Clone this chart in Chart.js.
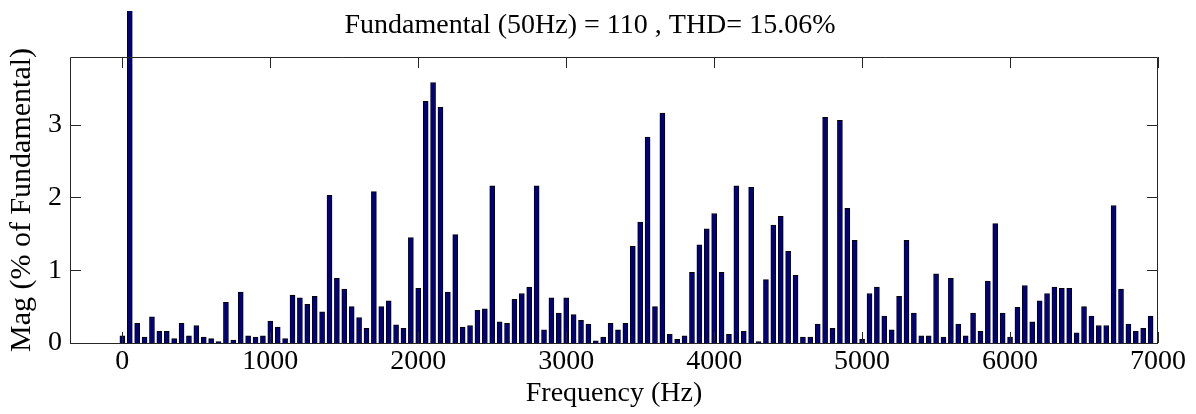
<!DOCTYPE html>
<html>
<head>
<meta charset="utf-8">
<title>Harmonic spectrum</title>
<script src="https://cdn.jsdelivr.net/npm/chart.js@4.4.1/dist/chart.umd.min.js"></script>
<style>
    html, body { margin: 0; padding: 0; background: #ffffff; }
    #wrap { width: 1196px; height: 414px; }
</style>
</head>
<body>
<div id="wrap"><canvas id="fftChart" width="1196" height="414"></canvas></div>
<script>
// Harmonic frequencies (Hz), one bar per 50 Hz step
const freqs = [
    0, 50, 100, 150, 200, 250, 300, 350, 400, 450,
    500, 550, 600, 650, 700, 750, 800, 850, 900, 950,
    1000, 1050, 1100, 1150, 1200, 1250, 1300, 1350, 1400, 1450,
    1500, 1550, 1600, 1650, 1700, 1750, 1800, 1850, 1900, 1950,
    2000, 2050, 2100, 2150, 2200, 2250, 2300, 2350, 2400, 2450,
    2500, 2550, 2600, 2650, 2700, 2750, 2800, 2850, 2900, 2950,
    3000, 3050, 3100, 3150, 3200, 3250, 3300, 3350, 3400, 3450,
    3500, 3550, 3600, 3650, 3700, 3750, 3800, 3850, 3900, 3950,
    4000, 4050, 4100, 4150, 4200, 4250, 4300, 4350, 4400, 4450,
    4500, 4550, 4600, 4650, 4700, 4750, 4800, 4850, 4900, 4950,
    5000, 5050, 5100, 5150, 5200, 5250, 5300, 5350, 5400, 5450,
    5500, 5550, 5600, 5650, 5700, 5750, 5800, 5850, 5900, 5950,
    6000, 6050, 6100, 6150, 6200, 6250, 6300, 6350, 6400, 6450,
    6500, 6550, 6600, 6650, 6700, 6750, 6800, 6850, 6900, 6950
];

// Magnitude (% of fundamental)
const mags = [
    0.10, 100, 0.27, 0.08, 0.36, 0.16, 0.16, 0.06, 0.27, 0.10,
    0.24, 0.08, 0.06, 0.02, 0.56, 0.04, 0.70, 0.10, 0.08, 0.10,
    0.30, 0.22, 0.06, 0.66, 0.62, 0.53, 0.64, 0.43, 2.03, 0.89,
    0.74, 0.50, 0.35, 0.20, 2.08, 0.50, 0.58, 0.25, 0.20, 1.45,
    0.75, 3.32, 3.58, 3.24, 0.70, 1.49, 0.22, 0.24, 0.45, 0.47,
    2.16, 0.29, 0.27, 0.60, 0.68, 0.77, 2.16, 0.18, 0.62, 0.41,
    0.62, 0.39, 0.31, 0.26, 0.03, 0.08, 0.27, 0.18, 0.27, 1.33,
    1.66, 2.83, 0.50, 3.16, 0.12, 0.05, 0.10, 0.97, 1.35, 1.57,
    1.78, 0.97, 0.12, 2.16, 0.16, 2.14, 0.02, 0.87, 1.62, 1.74,
    1.26, 0.93, 0.08, 0.08, 0.26, 3.10, 0.20, 3.06, 1.85, 1.41,
    0.05, 0.68, 0.77, 0.37, 0.18, 0.64, 1.41, 0.41, 0.10, 0.10,
    0.95, 0.08, 0.89, 0.26, 0.10, 0.41, 0.16, 0.85, 1.64, 0.41,
    0.08, 0.49, 0.79, 0.29, 0.58, 0.68, 0.77, 0.75, 0.75, 0.14,
    0.50, 0.37, 0.24, 0.24, 1.89, 0.74, 0.26, 0.16, 0.20, 0.37
];

// Axis ticks
const xTicks = [0, 1000, 2000, 3000, 4000, 5000, 6000, 7000];
const yTicks = [0, 1, 2, 3];

const titleText = 'Fundamental (50Hz) = 110 , THD= 15.06%';
const fontFamily = '"Liberation Serif", "Times New Roman", serif';

// Box around the axes plus MATLAB style inward tick marks and the title
const matlabFrame = {
    id: 'matlabFrame',
    afterDatasetsDraw(chart) {
        const { ctx, chartArea: a, scales } = chart;
        const len = 11;
        ctx.save();
        ctx.strokeStyle = '#262626';
        ctx.lineWidth = 1;
        ctx.beginPath();
        ctx.rect(a.left + 0.5, a.top + 0.5, a.right - a.left - 1, a.bottom - a.top);
        scales.x.ticks.forEach(t => {
            const px = Math.round(scales.x.getPixelForValue(t.value)) + 0.5;
            ctx.moveTo(px, a.bottom);
            ctx.lineTo(px, a.bottom - len);
            ctx.moveTo(px, a.top);
            ctx.lineTo(px, a.top + len);
        });
        scales.y.ticks.forEach(t => {
            const py = Math.round(scales.y.getPixelForValue(t.value)) + 0.5;
            ctx.moveTo(a.left, py);
            ctx.lineTo(a.left + len, py);
            ctx.moveTo(a.right, py);
            ctx.lineTo(a.right - len, py);
        });
        ctx.stroke();

        // title
        ctx.fillStyle = '#000000';
        ctx.font = '28px ' + fontFamily;
        ctx.textAlign = 'center';
        ctx.textBaseline = 'alphabetic';
        ctx.fillText(titleText, 590, 33);
        ctx.restore();
    }
};

const ctx = document.getElementById('fftChart');

new Chart(ctx, {
    type: 'bar',
    data: {
        datasets: [{
            data: freqs.map((f, i) => ({ x: f, y: mags[i] })),
            backgroundColor: '#000080',
            borderColor: '#000000',
            borderWidth: 1,
            barThickness: 5,
            clip: { left: 0, top: 46, right: 0, bottom: 0 }
        }]
    },
    options: {
        responsive: false,
        animation: false,
        devicePixelRatio: 1,
        layout: {
            padding: { top: 57, right: 38, bottom: 0, left: 0 }
        },
        plugins: {
            legend: { display: false },
            tooltip: { enabled: false }
        },
        scales: {
            x: {
                type: 'linear',
                min: -354,
                max: 7000,
                offset: false,
                grid: { display: false, drawTicks: false },
                border: { display: false },
                afterBuildTicks: s => { s.ticks = xTicks.map(v => ({ value: v })); },
                afterFit: s => { s.height = 71; s.paddingLeft = 0; s.paddingRight = 0; },
                ticks: {
                    color: '#000000',
                    padding: 2,
                    maxRotation: 0,
                    autoSkip: false,
                    callback: v => String(v),
                    font: { family: fontFamily, size: 28 }
                },
                title: {
                    display: true,
                    text: 'Frequency (Hz)',
                    color: '#000000',
                    padding: { top: 0, bottom: 4 },
                    font: { family: fontFamily, size: 28 }
                }
            },
            y: {
                min: 0,
                max: 3.93,
                grid: { display: false, drawTicks: false },
                border: { display: false },
                afterBuildTicks: s => { s.ticks = yTicks.map(v => ({ value: v })); },
                afterFit: s => { s.width = 70; s.paddingTop = 0; s.paddingBottom = 0; },
                ticks: {
                    color: '#000000',
                    padding: 8,
                    callback: v => String(v),
                    font: { family: fontFamily, size: 28 }
                },
                title: {
                    display: true,
                    text: 'Mag (% of Fundamental)',
                    color: '#000000',
                    padding: { top: 4, bottom: 0 },
                    font: { family: fontFamily, size: 30 }
                }
            }
        }
    },
    plugins: [matlabFrame]
});
</script>
</body>
</html>
